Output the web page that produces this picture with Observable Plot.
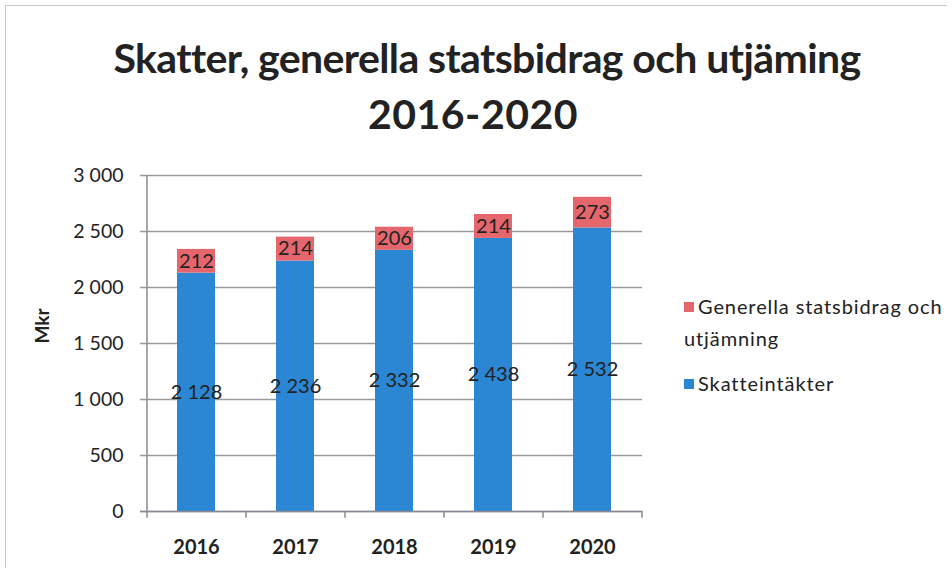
<!DOCTYPE html>
<html><head><meta charset="utf-8">
<script src="https://cdn.jsdelivr.net/npm/d3@7"></script>
<script src="https://cdn.jsdelivr.net/npm/@observablehq/plot@0.6"></script>
<style>
html,body{margin:0;padding:0;background:#fff;}
#wrap{position:relative;width:952px;height:573px;font-family:Lato,"Open Sans",sans-serif;}
#frame{position:absolute;left:5px;top:5px;width:942px;height:563px;border-left:1.5px solid #c8c8c8;border-top:1.5px solid #c8c8c8;box-sizing:border-box;pointer-events:none;}
#title{position:absolute;left:0;top:30px;width:974px;text-align:center;font-weight:bold;font-size:41px;line-height:56px;color:#222;letter-spacing:-0.6px;}
#title div:nth-child(2){position:relative;left:-14px;letter-spacing:0.5px;}
#legend{position:absolute;left:684px;top:290px;font-size:20px;letter-spacing:0.9px;color:#222;line-height:32px;}
.sw{display:inline-block;width:10px;height:10px;margin-right:4px;vertical-align:2px;}
</style></head>
<body><div id="wrap"><div id="frame"></div><div id="title"></div><div id="legend"></div></div>
<script>
const years = ["2016","2017","2018","2019","2020"];
const skatteintakter = [2128, 2236, 2332, 2438, 2532];
const generella = [212, 214, 206, 214, 273];
const seriesNames = ["Skatteintäkter", "Generella statsbidrag och utjämning"];
const seriesColors = ["#2b86d3", "#e5676d"];
const yTicks = [0, 500, 1000, 1500, 2000, 2500, 3000];
const titleLines = ["Skatter, generella statsbidrag och utjäming", "2016-2020"];
const yLabel = "Mkr";

const data = [];
years.forEach((yr, i) => {
  data.push({year: yr, series: seriesNames[0], value: skatteintakter[i]});
  data.push({year: yr, series: seriesNames[1], value: generella[i]});
});
const fmt = v => d3.format(",")(v).replace(/,/g, " ");

const stackOpts = {x: "year", y: "value", z: "series", order: seriesNames};
const axisColor = "#8a8a96";
const half = 49.5;

const chart = Plot.plot({
  width: 952, height: 573,
  marginLeft: 147, marginRight: 310, marginTop: 175, marginBottom: 62,
  style: {fontFamily: "Lato, 'Open Sans', sans-serif", background: "transparent", overflow: "visible"},
  x: {domain: years, paddingInner: 0.615, paddingOuter: 0.3075, label: null, tickSize: 0, tickPadding: 28},
  y: {domain: [0, 3000], ticks: yTicks, tickFormat: fmt, label: null, tickSize: 0, tickPadding: 24},
  color: {domain: seriesNames, range: seriesColors},
  marks: [
    Plot.ruleY(yTicks, {stroke: "#9a9a9a", strokeWidth: 1.5, insetLeft: -7}),
    Plot.barY(data, Plot.stackY({...stackOpts, fill: "series"})),
    Plot.ruleX([years[0]], {x: d => d, dx: -half, y1: 0, y2: 3000, stroke: axisColor, strokeWidth: 1.5}),
    Plot.ruleY([0], {stroke: axisColor, strokeWidth: 1.5, insetLeft: -7}),
    Plot.ruleX(years, {x: d => d, dx: -half, y1: 0, y2: -60, stroke: axisColor, strokeWidth: 1.5}),
    Plot.ruleX([years[years.length-1]], {x: d => d, dx: half, y1: 0, y2: -60, stroke: axisColor, strokeWidth: 1.5}),
    Plot.text(data, Plot.stackY({...stackOpts, text: d => fmt(d.value), fontSize: 20, fill: "#222"})),
    Plot.text([yLabel], {frameAnchor: "left", dx: -105, rotate: -90, fontSize: 19, fontWeight: "bold", fill: "#222"})
  ]
});
chart.querySelectorAll('[aria-label="x-axis tick label"]').forEach(g => { g.setAttribute("font-size", "20"); g.setAttribute("font-weight", "bold"); g.setAttribute("fill", "#222"); });
chart.querySelectorAll('[aria-label="y-axis tick label"]').forEach(g => { g.setAttribute("font-size", "19.5"); g.setAttribute("fill", "#222"); });
chart.style.position = "absolute"; chart.style.left = "0"; chart.style.top = "0";
document.getElementById("wrap").appendChild(chart);

document.getElementById("title").innerHTML = titleLines.map(s => `<div>${s}</div>`).join("");
document.getElementById("legend").innerHTML =
  `<div><span class="sw" style="background:${seriesColors[1]}"></span>Generella statsbidrag och<br>utjämning</div>` +
  `<div style="margin-top:13px"><span class="sw" style="background:${seriesColors[0]}"></span>${seriesNames[0]}</div>`;
</script></body></html>
